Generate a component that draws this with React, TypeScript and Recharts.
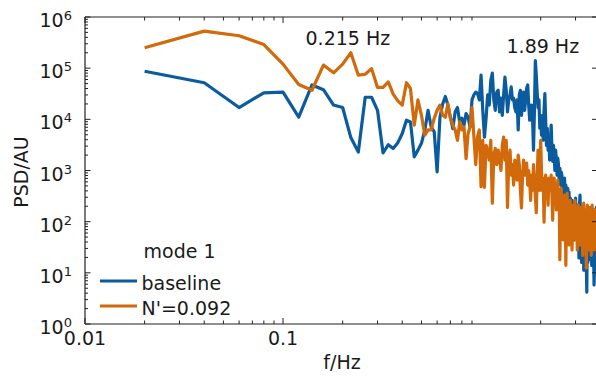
import React from "react";
import { LineChart, Line, XAxis, YAxis, ReferenceDot, Legend } from "recharts";

// PSD of mode 1, spectral resolution 0.02 Hz (first bin at 0.02 Hz)
const FREQ_STEP = 0.02;

const BASELINE = [
  8.7e4, 5.2e4, 1.7e4, 3.3e4, 3.4e4, 1.1e4, 4.7e4, 3.8e4, 1.9e4, 1.7e4,
  4.4e3, 2.3e3, 2.7e4, 2.7e4, 1.5e4, 2.2e3, 3.2e3, 2.7e3, 3.5e3, 5.3e3,
  9.6e3, 8.9e3, 1.85e3, 2.5e3, 3.4e3, 6.2e3, 1.5e4, 7.1e3, 5.7e3, 940,
  1.1e4, 2.0e4, 2.8e4, 1.9e4, 1.1e4, 6.6e3, 1.4e4, 1.7e4, 8.9e3, 1.05e4,
  7.7e3, 1.3e4, 1.1e4, 7.1e3, 2.4e4, 3.0e4, 3.4e4, 3.2e4, 2.4e4, 7.3e4,
  1.5e4, 4.5e3, 1.05e4, 3.0e4, 1.9e4, 5.8e4, 8.0e4, 2.4e4, 1.5e4, 3.4e4,
  3.7e4, 1.4e4, 2.6e4, 1.2e4, 3.0e4, 6.7e4, 3.7e4, 1.4e4, 2.4e4, 3.0e4,
  4.3e4, 2.4e4, 2.6e4, 1.7e4, 1.4e4, 2.4e4, 6.2e3, 3.0e4, 3.7e4, 1.2e4,
  2.4e4, 3.4e4, 1.5e4, 2.4e4, 4.1e4, 4.7e4, 1.9e4, 9.6e3, 1.4e4, 1.9e4,
  1.05e4, 2.5e3, 1.5e4, 1.4e5, 7.3e4, 3.4e4, 1.7e4, 2.4e4, 6.7e3, 1.05e4,
  4.9e3, 1.2e4, 3.9e3, 1.5e4, 3.2e4, 9.6e3, 3.1e3, 6.7e3, 2.5e3, 4.9e3,
  1.6e3, 3.9e3, 7.7e3, 2.5e3, 1.5e3, 3.1e3, 2.0e3, 1.0e3, 2.5e3, 1.6e3,
  810, 1.75e3, 1.3e3, 650, 1.1e3, 520, 930, 810, 330, 650,
  410, 710, 260, 520, 330, 210, 450, 260, 380, 170,
  290, 210, 135, 260, 86, 170, 44, 210, 107, 290,
  135, 69, 210, 107, 150, 19.5, 210, 330, 86, 135,
  16, 86, 55, 170, 11.3, 44, 22, 28, 69, 16,
  4.2, 86, 16, 44, 107, 28, 55, 135, 18, 44,
  14, 69, 35, 170, 28, 5.8, 14, 18, 107, 35,
  190, 44,
];

const STRATIFIED = [
  2.5e5, 5.3e5, 4.3e5, 2.9e5, 1.2e5, 4.8e4, 3.7e4, 1.15e5, 8.1e4, 1.2e5,
  2.0e5, 7.3e4, 7.6e4, 9.8e4, 4.2e4, 4.2e4, 5.4e4, 3.1e4, 2.3e4, 1.9e4,
  5.2e4, 4.0e4, 7.7e3, 2.4e4, 1.2e4, 4.9e3, 6.2e3, 6.2e3, 1.05e4, 1.5e4,
  1.9e4, 1.2e4, 1.1e4, 2.0e4, 1.05e4, 7.7e3, 6.2e3, 3.9e3, 8.9e3, 6.2e3,
  7.1e3, 1.7e3, 5.3e3, 7.1e3, 1.7e4, 4.6e3, 1.3e3, 4.6e3, 6.2e3, 480,
  3.9e3, 470, 3.1e3, 2.5e3, 1.6e3, 3.9e3, 230, 2.0e3, 2.7e3, 1.3e3,
  2.5e3, 1.75e3, 1.0e3, 3.1e3, 4.5e3, 1.6e3, 3.9e3, 190, 1.6e3, 2.5e3,
  810, 1.3e3, 520, 1.6e3, 1.0e3, 650, 2.0e3, 1.3e3, 410, 185,
  810, 1.6e3, 810, 1.0e3, 1.4e3, 520, 1.0e3, 650, 260, 810,
  410, 1.3e3, 650, 330, 150, 650, 2.5e3, 810, 410, 3.9e3,
  930, 410, 710, 98, 520, 810, 290, 590, 210, 710,
  410, 520, 810, 330, 107, 520, 710, 260, 450, 170,
  380, 650, 210, 330, 18, 260, 450, 135, 260, 44,
  170, 330, 210, 14, 170, 360, 86, 210, 35, 135,
  260, 69, 150, 28, 107, 210, 55, 135, 260, 44,
  107, 170, 28, 86, 210, 55, 135, 35, 98, 190,
  44, 86, 22, 135, 230, 55, 69, 170, 44, 12.4,
  107, 210, 69, 150, 28, 86, 190, 44, 107, 22,
  135, 210, 48, 118, 28, 98, 170, 35, 86, 150,
  28, 69,
];

const FREQS = BASELINE.map((_, i) => +((i + 1) * FREQ_STEP).toFixed(2));

const SERIES_NAMES = ["baseline", "N'=0.092"];
const COLORS = ["#0a5c9e", "#d2690a"];

const X_DOMAIN = [0.01, 3.85];
const Y_DOMAIN = [1, 1e6];
// ticks of the frequency axis (the original has no tick at 1 Hz)
const X_TICKS = [
  0.01, 0.02, 0.03, 0.04, 0.05, 0.06, 0.07, 0.08, 0.09,
  0.1, 0.2, 0.3, 0.4, 0.5, 0.6, 0.7, 0.8, 0.9, 2, 3,
];
const X_LABELS = ["0.01", "0.1"];
const Y_DECADES = [1, 10, 100, 1e3, 1e4, 1e5, 1e6];
const Y_MINOR = [2, 3, 4, 5, 6, 7, 8, 9];
const Y_TICKS = Y_DECADES.flatMap((d) =>
  d === 1e6 ? [d] : [d, ...Y_MINOR.map((m) => m * d)]
);

const PEAKS = [
  { f: 0.215, label: "0.215 Hz" },
  { f: 1.89, label: "1.89 Hz" },
];

const data = FREQS.map((f, i) => ({
  f,
  base: BASELINE[i],
  strat: STRATIFIED[i],
}));

const FONT = "'DejaVu Sans', Verdana, sans-serif";
const INK = "#1a1a1a";
const AXIS = "#222";
const LINE_W = 3.2;

const isDecade = (v: number) =>
  Math.abs(Math.log10(v) - Math.round(Math.log10(v))) < 1e-6;

function BottomTick({ x, y, payload }: any) {
  const v = payload.value;
  const major = isDecade(v);
  const idx = Math.round(Math.log10(v)) + 2;
  return (
    <g>
      <line x1={x} x2={x} y1={y} y2={y - (major ? 6 : 3.5)} stroke={AXIS} />
      {major && X_LABELS[idx] && (
        <text x={x} y={y + 21} textAnchor="middle" fontSize={19} fontFamily={FONT} fill={INK}>
          {X_LABELS[idx]}
        </text>
      )}
    </g>
  );
}

function TopTick({ x, y, payload }: any) {
  const major = isDecade(payload.value);
  return <line x1={x} x2={x} y1={y} y2={y + (major ? 6 : 3.5)} stroke={AXIS} />;
}

function LeftTick({ x, y, payload }: any) {
  const v = payload.value;
  const major = isDecade(v);
  return (
    <g>
      <line x1={x} x2={x + (major ? 5.5 : 3)} y1={y} y2={y} stroke={AXIS} />
      {major && (
        <text x={x - 13} y={y + 10} textAnchor="end" fontSize={19} fontFamily={FONT} fill={INK}>
          10
          <tspan dy={-7} fontSize={13}>
            {Math.round(Math.log10(v))}
          </tspan>
        </text>
      )}
    </g>
  );
}

function RightTick({ x, y, payload }: any) {
  if (!isDecade(payload.value)) return <g />;
  return <line x1={x} x2={x - 5} y1={y} y2={y} stroke={AXIS} />;
}

function ModeLegend() {
  return (
    <svg width={150} height={90} style={{ overflow: "visible" }}>
      <text x={48.5} y={23} fontSize={19} fontFamily={FONT} fill={INK}>
        mode 1
      </text>
      {SERIES_NAMES.map((name, i) => (
        <g key={name}>
          <line x1={5} x2={42} y1={46 + 25 * i} y2={46 + 25 * i} stroke={COLORS[i]} strokeWidth={3} />
          <text x={46.5} y={55 + 24.5 * i} fontSize={19} fontFamily={FONT} fill={INK}>
            {name}
          </text>
        </g>
      ))}
    </svg>
  );
}

export default function App() {
  return (
    <div
      style={{
        position: "absolute",
        left: 0,
        top: 0,
        width: 596,
        height: 377,
        overflow: "hidden",
        background: "#fff",
      }}
    >
      <LineChart
        width={600}
        height={377}
        data={data}
        margin={{ top: 16, right: 2, bottom: 52, left: 84 }}
      >
        <XAxis
          dataKey="f"
          type="number"
          scale="log"
          domain={X_DOMAIN}
          allowDataOverflow
          ticks={X_TICKS}
          interval={0}
          height={1}
          tickSize={0}
          tickMargin={0}
          tick={<BottomTick />}
          axisLine={{ stroke: AXIS, strokeWidth: 1.2 }}
        />
        <XAxis
          xAxisId="top"
          orientation="top"
          dataKey="f"
          type="number"
          scale="log"
          domain={X_DOMAIN}
          allowDataOverflow
          ticks={X_TICKS}
          interval={0}
          height={1}
          tickSize={0}
          tickMargin={0}
          tick={<TopTick />}
          axisLine={{ stroke: AXIS, strokeWidth: 1.2 }}
        />
        <YAxis
          type="number"
          scale="log"
          domain={Y_DOMAIN}
          allowDataOverflow
          ticks={Y_TICKS}
          interval={0}
          width={1}
          tickSize={0}
          tickMargin={0}
          tick={<LeftTick />}
          axisLine={{ stroke: AXIS, strokeWidth: 1.2 }}
        />
        <YAxis
          yAxisId="right"
          orientation="right"
          type="number"
          scale="log"
          domain={Y_DOMAIN}
          allowDataOverflow
          ticks={Y_TICKS}
          interval={0}
          width={1}
          tickSize={0}
          tickMargin={0}
          tick={<RightTick />}
          axisLine={{ stroke: AXIS, strokeWidth: 1.2 }}
        />
        <Line
          dataKey="base"
          name={SERIES_NAMES[0]}
          stroke={COLORS[0]}
          strokeWidth={LINE_W}
          strokeLinejoin="round"
          dot={false}
          isAnimationActive={false}
        />
        <Line
          dataKey="strat"
          name={SERIES_NAMES[1]}
          stroke={COLORS[1]}
          strokeWidth={LINE_W}
          strokeLinejoin="round"
          dot={false}
          isAnimationActive={false}
        />
        <ReferenceDot
          x={PEAKS[0].f}
          y={2.8e5}
          r={0}
          shape={(p: any) => (
            <text x={p.cx - 1} y={p.cy} textAnchor="middle" fontSize={19} fontFamily={FONT} fill={INK}>
              {PEAKS[0].label}
            </text>
          )}
        />
        <ReferenceDot
          x={PEAKS[1].f}
          y={1.96e5}
          r={0}
          shape={(p: any) => (
            <text x={p.cx + 7} y={p.cy} textAnchor="middle" fontSize={19} fontFamily={FONT} fill={INK}>
              {PEAKS[1].label}
            </text>
          )}
        />
        <Legend
          layout="horizontal"
          verticalAlign="middle"
          align="center"
          content={<ModeLegend />}
          wrapperStyle={{ left: 95, top: 235, width: 150, height: 90 }}
        />
        <text
          x={28}
          y={172}
          transform="rotate(-90, 28, 172)"
          textAnchor="middle"
          fontSize={19}
          fontFamily={FONT}
          fill={INK}
        >
          PSD/AU
        </text>
        <text x={342} y={369} textAnchor="middle" fontSize={19} fontFamily={FONT} fill={INK}>
          f/Hz
        </text>
      </LineChart>
    </div>
  );
}
